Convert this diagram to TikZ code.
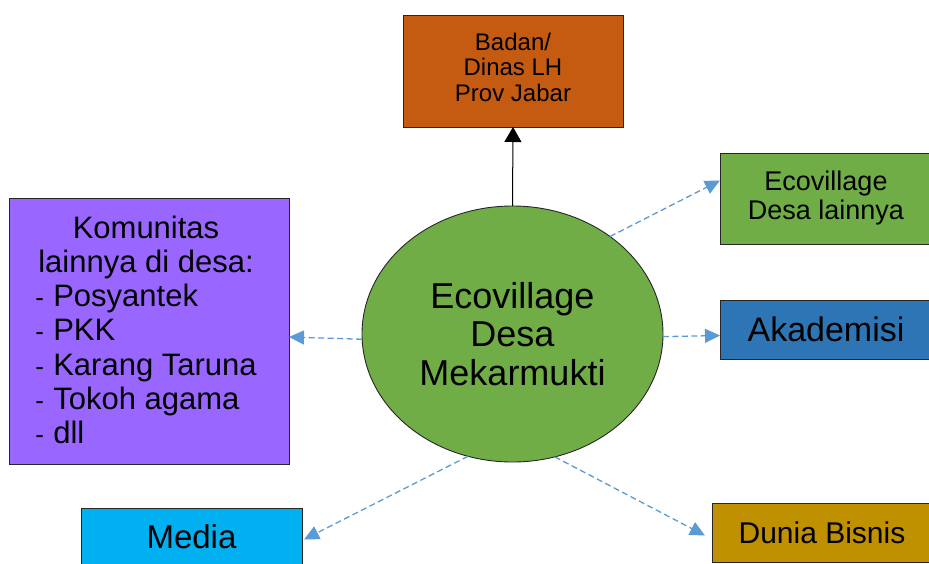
\documentclass[tikz,border=0pt]{standalone}
\usepackage{fontspec}
\setmainfont{Liberation Sans}
\usetikzlibrary{shapes.geometric,arrows.meta}
\definecolor{cBadan}{HTML}{C55A11}
\definecolor{cGreen}{HTML}{70AD47}
\definecolor{cAka}{HTML}{2E75B6}
\definecolor{cKom}{HTML}{9966FF}
\definecolor{cMedia}{HTML}{00B0F0}
\definecolor{cBisnis}{HTML}{BF9000}
\definecolor{cLine}{HTML}{5B9BD5}
\definecolor{cBorder}{HTML}{262626}
\newcommand\itm{\makebox[18pt][l]{\fontsize{26}{26}\selectfont -}}
\begin{document}
\begin{tikzpicture}[x=1pt,y=-1pt,
  box/.style={draw=cBorder,line width=0.9pt,inner sep=0pt,outer sep=0pt,align=center,text=black},
  dashconn/.style={draw=cLine,line width=1.3pt,dash pattern=on 6pt off 3.5pt,-{Triangle[length=15pt,width=14pt]}},
  solidconn/.style={draw=black,line width=1pt,-{Triangle[length=15pt,width=17pt]}}]
\useasboundingbox (0,0) rectangle (929,563);
\fill[white] (0,0) rectangle (929,563);

\node[box,fill=cBadan,minimum width=220pt,minimum height=112pt,font=\fontsize{24}{25.5}\selectfont] (bad) at (513,71) {Badan/\\Dinas LH\\Prov Jabar\rule[-8pt]{0pt}{8pt}};

\node[box,ellipse,fill=cGreen,minimum width=301pt,minimum height=256pt,font=\fontsize{36}{38.5}\selectfont] (eco) at (512.5,334) {Ecovillage\\Desa\\Mekarmukti};

\node[box,fill=cGreen,minimum width=212pt,minimum height=91pt,font=\fontsize{27}{29}\selectfont] (eds) at (826,198.5) {Ecovillage\\Desa lainnya};

\node[box,fill=cAka,minimum width=212pt,minimum height=59pt,font=\fontsize{34}{36}\selectfont] (aka) at (826,329.5) {Akademisi};

\node[box,fill=cKom,minimum width=280pt,minimum height=266pt,font=\fontsize{31}{34.2}\selectfont] (kom) at (149,331)
 {\hspace*{-3pt}\begin{tabular}{@{}l@{}}\multicolumn{1}{@{}c@{}}{\rule{0pt}{30pt}Komunitas}\\
  \multicolumn{1}{@{}c@{}}{lainnya di desa:}\\
  \itm Posyantek\\ \itm PKK\\ \itm Karang Taruna\\ \itm Tokoh agama\\ \itm dll\end{tabular}\hspace*{3pt}};

\node[box,fill=cMedia,minimum width=221pt,minimum height=57pt,font=\fontsize{33}{35}\selectfont] (med) at (191.5,536.5) {Media};

\node[box,fill=cBisnis,minimum width=220pt,minimum height=59pt,font=\fontsize{30}{32}\selectfont] (bis) at (822,532.5) {Dunia Bisnis};

\draw[solidconn] (eco.north) -- (bad.south);
\draw[dashconn] (eco.45) -- ([yshift=18pt]eds.west);
\draw[dashconn] (eco.-1) -- ([yshift=-6pt]aka.west);
\draw[dashconn] (eco.182) -- ([yshift=-6pt]kom.east);
\draw[dashconn] (eco.250) -- ([xshift=2pt,yshift=-3pt]med.east);
\draw[dashconn] (eco.289.6) -- ([xshift=-7pt,yshift=-3pt]bis.west);
\end{tikzpicture}
\end{document}
